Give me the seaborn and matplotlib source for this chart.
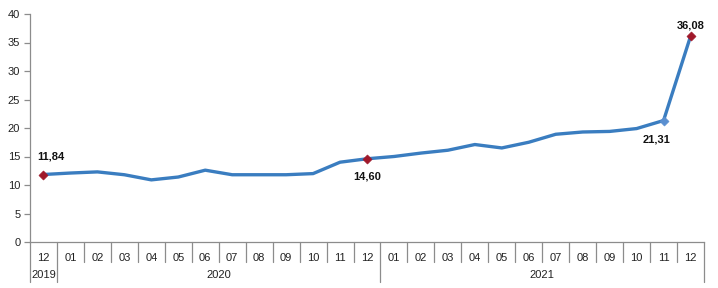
import matplotlib
matplotlib.use("Agg")
import matplotlib.pyplot as plt
import matplotlib.transforms as mtransforms
import seaborn as sns
import pandas as pd

months = ["12", "01", "02", "03", "04", "05", "06", "07", "08", "09", "10", "11", "12",
          "01", "02", "03", "04", "05", "06", "07", "08", "09", "10", "11", "12"]
years = ["2019", "2020", "2021"]
year_counts = [1, 12, 12]
values = [11.84, 12.1, 12.3, 11.8, 10.9, 11.4, 12.6, 11.8, 11.8, 11.8, 12.0, 14.0, 14.60,
          15.0, 15.6, 16.1, 17.1, 16.5, 17.5, 18.9, 19.3, 19.4, 19.9, 21.31, 36.08]
label_idx = [0, 12, 23, 24]
label_text = ["11,84", "14,60", "21,31", "36,08"]
label_offsets = [(5, 13), (0, -13), (-5, -14), (0, 8)]

sns.set_style("white")
plt.rcParams["font.family"] = ["Liberation Sans", "DejaVu Sans"]

df = pd.DataFrame({"idx": list(range(len(values))), "value": values})

fig = plt.figure(figsize=(7.18, 2.88), dpi=100)
ax = fig.add_axes([30 / 718, 46 / 288, 674 / 718, 228 / 288])

line_color = "#3A7DC0"
sns.lineplot(data=df, x="idx", y="value", ax=ax, color=line_color, linewidth=2.4)

# markers
red_idx = [0, 12, 24]
sns.scatterplot(x=[df.idx[i] for i in red_idx], y=[df.value[i] for i in red_idx], ax=ax,
                marker="D", s=22, color="#A0182A", edgecolor="#A0182A", zorder=5)
sns.scatterplot(x=[df.idx[23]], y=[df.value[23]], ax=ax,
                marker="D", s=22, color="#5A8FD0", edgecolor="#5A8FD0", zorder=5)

for i, t, (dx, dy) in zip(label_idx, label_text, label_offsets):
    ax.annotate(t, (df.idx[i], df.value[i]), xytext=(dx, dy), textcoords="offset points",
                ha="center", va="center", fontsize=8, fontweight="bold", color="#111111")

ax.set_xlim(-0.5, len(values) - 0.5)
ax.set_ylim(0, 40)
ax.set_yticks(range(0, 41, 5))
ax.set_xticks(range(len(values)))
ax.set_xticklabels(months)
ax.set_xlabel("")
ax.set_ylabel("")

for s in ["top", "right"]:
    ax.spines[s].set_visible(False)
for s in ["left", "bottom"]:
    ax.spines[s].set_color("#8C8C8C")
    ax.spines[s].set_linewidth(0.9)

ax.tick_params(axis="y", which="both", left=True, length=4, width=0.9, color="#8C8C8C",
               labelsize=8, pad=3, labelcolor="#222222")
ax.tick_params(axis="x", length=0, labelsize=8, pad=8, labelcolor="#222222")

trans = mtransforms.blended_transform_factory(ax.transData, ax.transAxes)
axh = 228.0
# month separators
boundaries = [sum(year_counts[:k]) - 0.5 for k in range(len(year_counts) + 1)]
for i in range(len(values) + 1):
    x = i - 0.5
    if x in boundaries:
        ax.plot([x, x], [0, -40 / axh], transform=trans, color="#8C8C8C", lw=0.9, clip_on=False)
    else:
        ax.plot([x, x], [0, -20 / axh], transform=trans, color="#8C8C8C", lw=0.9, clip_on=False)

# year labels
start = 0
for y, c in zip(years, year_counts):
    center = start + (c - 1) / 2
    ax.text(center, -33 / axh, y, transform=trans, ha="center", va="center",
            fontsize=8, color="#222222")
    start += c

fig.savefig("out.png", dpi=100)
